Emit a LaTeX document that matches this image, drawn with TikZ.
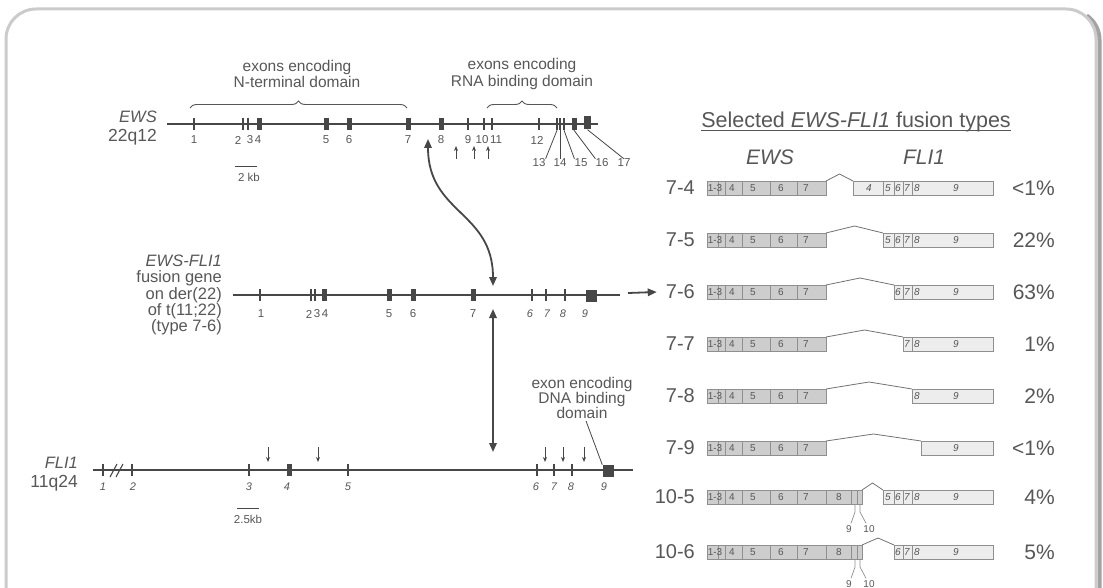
\documentclass[tikz,border=0pt]{standalone}
\usepackage{fontspec}
\setmainfont{Liberation Sans}
\usetikzlibrary{arrows.meta,calc,positioning,decorations.pathreplacing}
\definecolor{Ink}{HTML}{474747}
\definecolor{Muted}{HTML}{575757}
\definecolor{Frame}{HTML}{CBCBCB}
\definecolor{Shade}{HTML}{A3A3A3}
\definecolor{EwsFill}{HTML}{CDCDCD}
\definecolor{FliFill}{HTML}{EDEDED}
\definecolor{Edge}{HTML}{8F8F8F}

\begin{document}
\begin{tikzpicture}[x=1pt,y=-1pt,
    gene/.style={draw=Ink,line width=2.8pt},
    tk/.style={fill=Ink,inner sep=0pt,minimum width=1.3pt,minimum height=12pt},
    ex/.style={fill=Ink,inner sep=0pt,minimum width=5pt,minimum height=12pt},
    bigex/.style={fill=Ink,inner sep=0pt,minimum width=11pt,minimum height=12pt},
    num/.style={text=Muted,font=\fontsize{11.5}{12}\selectfont,inner sep=0pt},
    inum/.style={text=Muted,font=\fontsize{11}{12}\selectfont\itshape,inner sep=0pt},
    lab/.style={text=Muted,font=\fontsize{16.5}{16.3}\selectfont,inner sep=0pt,align=right,anchor=east},
    note/.style={text=Muted,font=\fontsize{15.5}{16.5}\selectfont,inner sep=0pt,align=center},
    lead/.style={draw=Ink,line width=0.8pt},
    smallarrow/.style={-{Stealth[length=5pt,width=4pt]},draw=Ink,line width=0.8pt},
    bigarrow/.style={{Triangle[length=9pt,width=7.5pt]}-{Triangle[length=9pt,width=7.5pt]},draw=Ink,line width=1.8pt},
    onearrow/.style={-{Triangle[length=9pt,width=7.5pt]},draw=Ink,line width=1.8pt},
    brc/.style={decorate,decoration={brace,amplitude=7pt},draw=Muted,line width=0.9pt},
    ewsbox/.style={fill=EwsFill,draw=Edge,line width=0.7pt},
    flibox/.style={fill=FliFill,draw=Edge,line width=0.7pt},
    seg/.style={draw=Edge,line width=0.7pt},
    splice/.style={draw=Edge!80!black,line width=0.8pt},
    inbox/.style={text=Muted,font=\fontsize{10}{10}\selectfont,inner sep=0pt},
    rowlab/.style={text=Muted,font=\fontsize{20}{20}\selectfont,inner sep=0pt,anchor=east}]
  \useasboundingbox (0,0) rectangle (1103,588);
  \clip (0,0) rectangle (1103,588);
  % frame
  \draw[Shade,line width=4pt] (1099.5,600) -- (1099.5,40) arc[start angle=0,end angle=-55,radius=30];
  \draw[Frame,line width=3pt,rounded corners=30pt] (6,600) -- (6,9) -- (1096,9) -- (1096,600);

  % EWS on 22q12
  \node[lab] (ewsname) at (157,128) {\textit{EWS}\\[2pt]\fontsize{17.5}{17.5}\selectfont 22q12};
  \draw[gene] (167,124) -- (598,124);
  \foreach \n/\x in {1/194,2/243,3/248,9/468,10/484,11/492,12/539,13/557,14/560,15/564}
    \node[tk] (ews\n) at (\x,124) {};
  \foreach \n/\x in {4/259,5/326,6/349,7/408,8/441,16/574}
    \node[ex] (ews\n) at (\x,124) {};
  \node[bigex,minimum width=7pt,minimum height=13pt] (ews17) at (587.5,123) {};
  \foreach \t/\x in {1/194,2/238,3/250,4/258,5/326,6/349,7/408,8/441,9/468,10/482,11/496,12/537}
    \node[num] at (\x,140) {\t};
  \foreach \t/\x in {13/539,14/560,15/581,16/602,17/624}
    \node[num] (low\t) at (\x,163) {\t};
  \draw[lead] (low13.north east) -- (ews13.south);
  \draw[lead] (low14.north) -- (ews14.south);
  \draw[lead] (low15.north west) -- (ews15.south);
  \draw[lead] (low16.north west) -- (ews16.south);
  \draw[lead] (low17.north) -- (ews17.south);
  \foreach \x [count=\k] in {456,474,488}
    \draw[smallarrow] (\x,159) coordinate (bp\k) -- (\x,146);
  \draw[lead] (235,166) -- (257,166);
  \node[num] (kbews) at (249,177) {2 kb};

  % domains
  \draw[brc] (190,108) -- (407,108);
  \node[note] (nterm) at (297,74) {exons encoding\\N-terminal domain};
  \draw[brc] (487,108) -- (557,108);
  \node[note] (rnab) at (522,74) {exons encoding\\RNA binding domain};

  % fusion gene
  \node[lab] (fusname) at (222,295) {\textit{EWS-FLI1}\\fusion gene\\on der(22)\\of t(11;22)\\(type 7-6)};
  \draw[gene] (233,295) -- (620,295);
  \foreach \n/\x in {1/260,2/311,3/315,f6/532,f7/546,f8/565}
    \node[tk] (fus\n) at (\x,295) {};
  \foreach \n/\x in {4/324,5/389,6/413,7/473}
    \node[ex] (fus\n) at (\x,295) {};
  \node[bigex] (fusf9) at (591,295.5) {};
  \foreach \t/\x in {1/261,2/309,3/317,4/325,5/389,6/413,7/473}
    \node[num] at (\x,314) {\t};
  \foreach \t/\x in {6/530,7/547,8/563,9/585}
    \node[inum] at (\x,314) {\t};

  % FLI1 on 11q24
  \node[lab] (fliname) at (78,474) {\textit{FLI1}\\[2pt]\fontsize{17.5}{17.5}\selectfont 11q24};
  \draw[gene] (93,470) -- (633,470);
  \draw[line width=1.1pt,draw=Ink] (110,477) -- (117,464) (116,477) -- (123,464);
  \foreach \n/\x in {1/103,2/132,3/249,5/348,6/537,7/554,8/572}
    \node[tk] (fli\n) at (\x,470) {};
  \node[ex] (fli4) at (289,470) {};
  \node[bigex] (fli9) at (608,471) {};
  \foreach \t/\x in {1/103,2/133,3/249,4/287,5/348,6/536,7/554,8/571,9/604}
    \node[inum] at (\x,487) {\t};
  \foreach \x [count=\k] in {268,318,545,563,584}
    \draw[smallarrow] (\x,447) coordinate (fbp\k) -- (\x,462);
  \draw[lead] (237,508) -- (259,508);
  \node[num] (kbfli) at (248,519) {2.5kb};
  \node[note,font=\fontsize{15.5}{15}\selectfont] (dnab) at (582,398) {exon encoding\\DNA binding\\domain};
  \draw[lead] ($(dnab.south)+(4,2)$) -- (fli9.north west);

  % translocation
  \coordinate (ewsgap) at (428,139);
  \coordinate (fusgap) at (493,286);
  \draw[bigarrow] (ewsgap) .. controls +(0,75) and +(0,-75) .. (fusgap);
  \coordinate (fusgap2) at (493,309);
  \coordinate (fligap) at (493,452);
  \draw[bigarrow] (fusgap2) -- (fligap);

  % fusion types
  \node[text=Muted,font=\fontsize{21.5}{22}\selectfont,inner sep=0pt,anchor=base] (ttl) at (856,128)
    {Selected \textit{EWS-FLI1} fusion types};
  \draw[Muted,line width=0.8pt] ([yshift=-2.5pt]ttl.base west) -- ([yshift=-2.5pt]ttl.base east);
  \node[text=Muted,font=\fontsize{21}{21}\selectfont\itshape,inner sep=0pt,anchor=base] (hews) at (770,165) {EWS};
  \node[text=Muted,font=\fontsize{21}{21}\selectfont\itshape,inner sep=0pt,anchor=base] (hfli) at (924,165) {FLI1};
  \foreach \i/\lab/\yy/\ee/\fs/\pct in {1/7-4/188/826/853/{<1\%},2/7-5/240/826/883/22\%,
      3/7-6/292/826/894/63\%,4/7-7/344/826/903/1\%,5/7-8/396/826/912/2\%,
      6/7-9/448/826/921/{<1\%},7/10-5/497/862/883/4\%,8/10-6/552/862/894/5\%}{
    \node[rowlab] (r\i) at (695,\yy) {\lab};
    \draw[ewsbox] (707,\yy-7) rectangle (\ee,\yy+7);
    \foreach \d in {718,725,742,770,797,826,851,857}{
      \ifnum\d<\ee\relax \draw[seg] (\d,\yy-7) -- (\d,\yy+7); \fi}
    \foreach \t/\x in {1-3/715,4/732,5/753,6/781,7/806}
      \node[inbox] at (\x,\yy) {\t};
    \draw[flibox] (\fs,\yy-7) rectangle (993,\yy+7);
    \foreach \d in {883,894,903,912}{
      \ifnum\d>\fs\relax \draw[seg] (\d,\yy-7) -- (\d,\yy+7); \fi}
    \foreach \t/\x/\lo in {4/869/853,5/888/883,6/898/894,7/907/903,8/917/912}{
      \ifnum\lo<\fs\relax\else \node[inbox,font=\fontsize{10}{10}\selectfont\itshape] at (\x,\yy) {\t}; \fi}
    \node[inbox,font=\fontsize{10}{10}\selectfont\itshape] at (956,\yy) {9};
    \draw[splice] (\ee,\yy-7) -- ({(\ee+\fs)/2},\yy-14) -- (\fs,\yy-7);
    \node[rowlab,font=\fontsize{21}{21}\selectfont] (p\i) at (1055,\yy) {\pct};
  }
  \foreach \yy [count=\k] in {497,552}{
    \node[inbox] at (839,\yy) {8};
    \node[inbox] (nine\k) at (849,\yy+32) {9};
    \node[inbox] (ten\k) at (869,\yy+32) {10};
    \draw[seg] ($(nine\k.north)+(2,-2)$) -- (855,\yy+15) -- (855,\yy+7);
    \draw[seg] ($(ten\k.north)+(-3,-2)$) -- (860,\yy+15) -- (860,\yy+7);
  }
  \coordinate (fusend) at (628,293);
  \draw[onearrow] (fusend) -- ([xshift=-9pt]r3.west);
\end{tikzpicture}
\end{document}
